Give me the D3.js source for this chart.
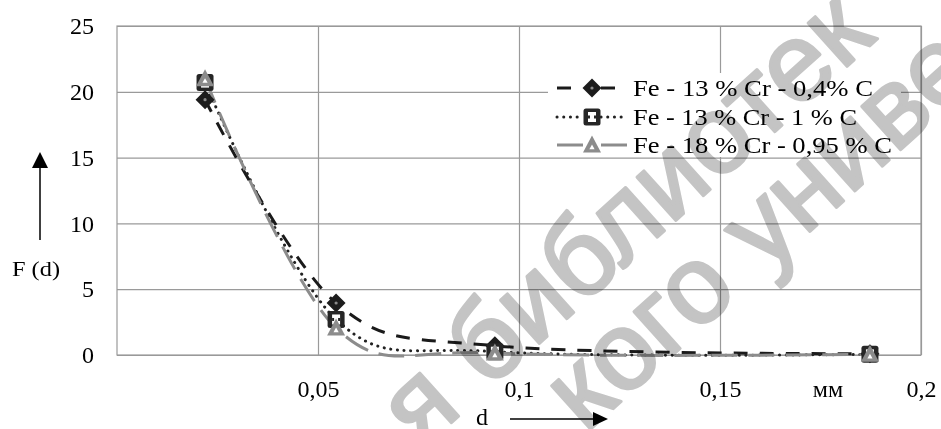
<!DOCTYPE html>
<html>
<head>
<meta charset="utf-8">
<script src="https://cdn.jsdelivr.net/npm/d3@7"></script>
<style>
  html, body { margin: 0; padding: 0; background: #fff; }
  svg { display: block; }
  text { font-family: "Liberation Serif", "Times New Roman", serif; fill: #000; }
  .wm text { font-family: "Liberation Sans", Arial, sans-serif; fill: #c4c4c4;
             stroke: #c4c4c4; stroke-width: 3px; stroke-linejoin: round; }
</style>
</head>
<body>
<svg id="chart" width="941" height="429"></svg>
<script>
// Particle size d, mm
const diameters = [0.0219, 0.0545, 0.094, 0.1873];
// F(d) for each alloy
const fe13cr04c = [19.4, 3.95, 0.7, 0.1];
const fe13cr1c = [20.7, 2.7, 0.25, 0.05];
const fe18cr095c = [21.0, 2.05, 0.15, 0.05];
const seriesNames = ["Fe - 13 % Cr - 0,4% C", "Fe - 13 % Cr - 1 % C", "Fe - 18 % Cr - 0,95 % C"];
const xTicks = [0.05, 0.1, 0.15, 0.2];
const xTickLabels = ["0,05", "0,1", "0,15", "0,2"];
const yTicks = [0, 5, 10, 15, 20, 25];
const watermarkLines = ["я библиотек", "кого униве"];

const svg = d3.select("#chart");
const plotL = 117, plotR = 921, plotT = 26, plotB = 355;
const x = d3.scaleLinear().domain([0, 0.2]).range([plotL, plotR]);
const y = d3.scaleLinear().domain([0, 25]).range([plotB, plotT]);
const gridColor = "#9a9a9a";

// grid and axes
const yAxis = d3.axisLeft(y).tickValues(yTicks).tickSize(-(plotR - plotL)).tickPadding(23);
const gy = svg.append("g").attr("transform", `translate(${plotL},0)`).call(yAxis);
const xAxis = d3.axisBottom(x).tickValues(xTicks)
  .tickFormat((d, i) => xTickLabels[i]).tickSize(-(plotB - plotT)).tickPadding(25);
const gx = svg.append("g").attr("transform", `translate(0,${plotB})`).call(xAxis);
[gx, gy].forEach(g => {
  g.select(".domain").remove();
  g.selectAll(".tick line").attr("stroke", gridColor).attr("stroke-width", 1.2);
  g.selectAll(".tick text").attr("font-size", 24)
    .attr("font-family", "Liberation Serif, Times New Roman, serif").attr("fill", "#000");
});
svg.append("rect").attr("x", plotL).attr("y", plotT)
  .attr("width", plotR - plotL).attr("height", plotB - plotT)
  .attr("fill", "none").attr("stroke", gridColor).attr("stroke-width", 1.2);

// series definitions
const series = [
  { name: seriesNames[0], values: fe13cr04c, color: "#1a1a1a", dash: "14 12", cap: "butt", marker: "diamond" },
  { name: seriesNames[1], values: fe13cr1c, color: "#222", dash: "0.1 6.6", cap: "round", marker: "square" },
  { name: seriesNames[2], values: fe18cr095c, color: "#8c8c8c", dash: "26 11", cap: "butt", marker: "triangle" }
];

function drawMarker(g, type, cx, cy) {
  const m = g.append("g").attr("transform", `translate(${cx},${cy})`);
  if (type === "diamond") {
    m.append("path").attr("d", "M0,-9.5L9.5,0L0,9.5L-9.5,0Z").attr("fill", "#1c1c1c");
    m.append("circle").attr("r", 1.6).attr("fill", "#8a8a8a");
  } else if (type === "square") {
    m.append("rect").attr("x", -8.5).attr("y", -8.5).attr("width", 17).attr("height", 17)
      .attr("rx", 2.5).attr("fill", "#262626");
    m.append("rect").attr("x", -4).attr("y", -5).attr("width", 8).attr("height", 10).attr("fill", "#fff");
    m.append("rect").attr("x", -4).attr("y", -1.5).attr("width", 2).attr("height", 3).attr("fill", "#262626");
    m.append("rect").attr("x", 2).attr("y", -1.5).attr("width", 2).attr("height", 3).attr("fill", "#262626");
  } else {
    m.append("path").attr("d", "M0,-9.5L9,7.5L-9,7.5Z").attr("fill", "#8c8c8c");
    m.append("path").attr("d", "M0,-0.5L2.6,4.2L-2.6,4.2Z").attr("fill", "#fff");
  }
}

const line = d3.line()
  .x((d, i) => x(diameters[i]))
  .y(d => y(d))
  .curve(d3.curveCardinal.tension(0));

const plot = svg.append("g");
series.forEach(s => {
  plot.append("path").attr("d", line(s.values))
    .attr("fill", "none").attr("stroke", s.color).attr("stroke-width", 3)
    .attr("stroke-dasharray", s.dash).attr("stroke-linecap", s.cap);
});
series.forEach(s => {
  s.values.forEach((v, i) => drawMarker(plot, s.marker, x(diameters[i]), y(v)));
});

// legend
const legend = svg.append("g");
legend.append("rect").attr("x", 548).attr("y", 73).attr("width", 353).attr("height", 84).attr("fill", "#fff");
const rowY = [88, 117, 145];
const textLen = [240, 224, 259];
series.forEach((s, i) => {
  const yy = rowY[i];
  [[557, 583], [601, 627]].forEach(([a, b]) => {
    legend.append("line").attr("x1", a).attr("x2", b).attr("y1", yy).attr("y2", yy)
      .attr("stroke", s.color).attr("stroke-width", 3)
      .attr("stroke-dasharray", s.dash).attr("stroke-linecap", s.cap);
  });
  drawMarker(legend, s.marker, 592, yy);
  legend.append("text").attr("x", 633).attr("y", yy + 8).attr("font-size", 23)
    .attr("textLength", textLen[i]).attr("lengthAdjust", "spacingAndGlyphs")
    .text(s.name);
});

// axis captions
svg.append("text").attr("x", 828).attr("y", 397).attr("font-size", 24)
  .attr("text-anchor", "middle").text("мм");
svg.append("text").attr("x", 482).attr("y", 425).attr("font-size", 24)
  .attr("text-anchor", "middle").text("d");
svg.append("text").attr("x", 12).attr("y", 276).attr("font-size", 22)
  .attr("textLength", 48).attr("lengthAdjust", "spacingAndGlyphs").text("F (d)");

// axis arrows
svg.append("line").attr("x1", 40).attr("x2", 40).attr("y1", 240).attr("y2", 165)
  .attr("stroke", "#000").attr("stroke-width", 1.5);
svg.append("path").attr("d", "M40,152L32,168L48,168Z").attr("fill", "#000");
svg.append("line").attr("x1", 510).attr("x2", 595).attr("y1", 419).attr("y2", 419)
  .attr("stroke", "#000").attr("stroke-width", 1.5);
svg.append("path").attr("d", "M608,419L593,412L593,426Z").attr("fill", "#000");

// library stamp across the page
const wm = svg.append("g").attr("class", "wm").style("mix-blend-mode", "multiply");
const wmOrigins = [[420, 451], [585, 434]];
watermarkLines.forEach((t, i) => {
  wm.append("text").attr("font-size", 110)
    .attr("transform", `translate(${wmOrigins[i][0]},${wmOrigins[i][1]}) rotate(-42)`)
    .text(t);
});
</script>
</body>
</html>
